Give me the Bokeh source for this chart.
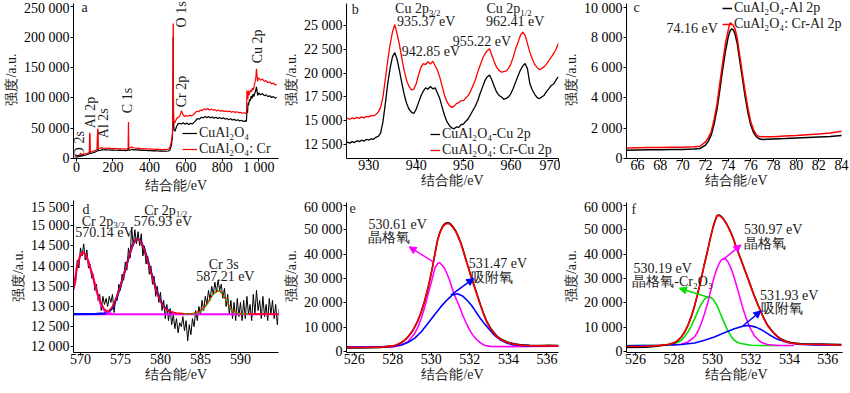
from bokeh.plotting import figure
from bokeh.models import Range1d, FixedTicker, Label, Arrow, NormalHead, Legend, LegendItem
from bokeh.layouts import column, row
from bokeh.embed import file_html
from bokeh.resources import INLINE

# ---------------- data ----------------
x_label = "结合能/eV"
y_label = "强度/a.u."

# panel a : survey
a_xticks = [0, 200, 400, 600, 800, 1000]
a_xticklabels = ["0", "200", "400", "600", "800", "1 000"]
a_yticks = [0, 50000, 100000, 150000, 200000, 250000]
a_yticklabels = ["0", "50 000", "100 000", "150 000", "200 000", "250 000"]
a_peaks = ["O 2s", "Al 2p", "Al 2s", "C 1s", "O 1s", "Cr 2p", "Cu 2p"]
a_series = ["CuAl₂O₄", "CuAl₂O₄: Cr"]
a_red_x = [-10, 0, 10, 18, 23, 28, 35, 45, 55, 63,
           70, 72, 74, 76, 85, 95, 105, 112, 116, 118,
           120, 130, 140, 150, 160, 170, 180, 190, 200, 210,
           220, 230, 240, 250, 260, 270, 280, 283, 285, 287,
           293, 300, 310, 320, 330, 340, 350, 360, 370, 380,
           390, 400, 410, 420, 430, 440, 450, 460, 470, 480,
           490, 500, 508, 515, 522, 527, 529, 530, 531, 532,
           534, 538, 545, 552, 560, 566, 572, 576, 580, 586,
           592, 600, 610, 620, 630, 640, 650, 660, 670, 680,
           690, 700, 710, 720, 730, 740, 750, 760, 770, 780,
           790, 800, 810, 820, 830, 840, 850, 860, 870, 880,
           890, 900, 910, 920, 928, 932, 935, 937, 940, 943,
           946, 950, 955, 960, 965, 970, 975, 980, 984, 987,
           990, 993, 997, 1000, 1010, 1020, 1030, 1040, 1050, 1060,
           1070, 1080, 1090, 1098]
a_red_y = [3800, 4500, 5200, 6000, 9000, 6500, 6800, 7300, 8000, 8800,
           9800, 41500, 41500, 10800, 11300, 12300, 13300, 14800, 48500, 48500,
           16500, 17000, 17500, 16800, 17300, 16600, 17000, 16400, 16800, 16200,
           16500, 15900, 16200, 15700, 16000, 15500, 15800, 16500, 60000, 17500,
           17000, 19000, 18000, 17300, 16800, 17000, 16300, 16500, 16000, 16200,
           15700, 15900, 15400, 15600, 15200, 15400, 14900, 15100, 14800, 15000,
           14700, 14900, 16000, 21000, 31000, 42000, 100000, 222000, 222000, 80000,
           62000, 58000, 63000, 67000, 68000, 70000, 74000, 79000, 75000, 72000,
           69000, 71000, 69500, 71500, 70000, 72000, 75000, 78000, 77000, 80000,
           79000, 82000, 80500, 82500, 80000, 81500, 79500, 80500, 78500, 80000,
           78000, 79000, 77500, 78500, 77000, 78000, 76500, 77500, 76000, 77000,
           75500, 76000, 74500, 75500, 74000, 76000, 112000, 100000, 98000, 112000,
           104000, 108000, 113000, 110000, 116000, 113000, 120000, 127000, 134000, 148000,
           138000, 127000, 131000, 133000, 129000, 131000, 127000, 128500, 125000, 126500,
           123000, 124500, 121000, 122500]
a_black_x = [-10, 0, 10, 20, 30, 40, 50, 60, 70, 73,
             75, 85, 95, 105, 115, 118, 121, 130, 140, 150,
             160, 170, 180, 190, 200, 210, 220, 230, 240, 250,
             260, 270, 280, 285, 288, 295, 305, 315, 325, 335,
             345, 355, 365, 375, 385, 395, 405, 415, 425, 435,
             445, 455, 465, 475, 485, 495, 505, 512, 520, 526,
             529, 530, 531, 532, 535, 540, 548, 556, 565, 575,
             585, 595, 605, 615, 625, 635, 645, 655, 665, 675,
             685, 695, 705, 715, 725, 735, 745, 755, 765, 775,
             785, 795, 805, 815, 825, 835, 845, 855, 865, 875,
             885, 895, 905, 915, 925, 932, 935, 938, 941, 944,
             948, 953, 958, 963, 968, 973, 978, 983, 987, 990,
             994, 1000, 1010, 1020, 1030, 1040, 1050, 1060, 1070, 1080,
             1090, 1098]
a_black_y = [2500, 2800, 3200, 3800, 4300, 5000, 5800, 6800, 7800, 12000,
             8500, 9000, 10000, 11000, 12500, 16000, 13000, 13500, 14500, 14000,
             14600, 14000, 14400, 13800, 14200, 13600, 14000, 13400, 13800, 13200,
             13500, 13000, 13300, 17000, 13500, 14000, 15000, 14300, 14500, 13900,
             14100, 13500, 13800, 13200, 13500, 12900, 13200, 12700, 13000, 12500,
             12800, 12300, 12600, 12100, 12400, 12000, 12400, 14000, 21000, 34000,
             90000, 200000, 200000, 60000, 47000, 45000, 52000, 57000, 58000, 57000,
             59000, 56500, 58500, 56000, 58000, 57000, 59500, 63000, 66000, 65000,
             68000, 67000, 69000, 67500, 69000, 67000, 68500, 66500, 68000, 66000,
             67500, 65500, 67000, 65000, 66000, 64000, 65500, 63500, 64500, 62500,
             64000, 62000, 63000, 61000, 62000, 61000, 80000, 75000, 92000, 88000,
             97000, 95000, 103000, 99000, 106000, 102000, 108000, 112000, 118000, 112000,
             104000, 108000, 105000, 107000, 103500, 105000, 102000, 103500, 100500, 102000,
             99500, 101000]

# panel b : Cu 2p
b_xticks = [930, 940, 950, 960, 970]
b_xticklabels = ["930", "940", "950", "960", "970"]
b_yticks = [12500, 15000, 17500, 20000, 22500, 25000]
b_yticklabels = ["12 500", "15 000", "17 500", "20 000", "22 500", "25 000"]
b_series = ["CuAl₂O₄-Cu 2p", "CuAl₂O₄: Cr-Cu 2p"]
b_peak_labels = ["935.37 eV", "942.85 eV", "955.22 eV", "962.41 eV"]
b_x = [925.0, 925.5, 926.0, 926.5, 927.0, 927.5, 928.0, 928.5, 929.0, 929.5,
       930.0, 930.5, 931.0, 931.5, 932.0, 932.5, 933.0, 933.5, 934.0, 934.5,
       935.0, 935.5, 936.0, 936.5, 937.0, 937.5, 938.0, 938.5, 939.0, 939.5,
       940.0, 940.5, 941.0, 941.5, 942.0, 942.5, 943.0, 943.5, 944.0, 944.5,
       945.0, 945.5, 946.0, 946.5, 947.0, 947.5, 948.0, 948.5, 949.0, 949.5,
       950.0, 950.5, 951.0, 951.5, 952.0, 952.5, 953.0, 953.5, 954.0, 954.5,
       955.0, 955.5, 956.0, 956.5, 957.0, 957.5, 958.0, 958.5, 959.0, 959.5,
       960.0, 960.5, 961.0, 961.5, 962.0, 962.5, 963.0, 963.5, 964.0, 964.5,
       965.0, 965.5, 966.0, 966.5, 967.0, 967.5, 968.0, 968.5, 969.0, 969.5,
       970.0]
b_black = [12550, 12750, 12650, 12800, 12700, 12900, 12800, 12950, 12850, 13050,
           12950, 13100, 13050, 13250, 13350, 13700, 14900, 16800, 18900, 20500,
           21700, 22150, 21400, 20200, 18900, 17700, 16800, 16200, 15900, 15750,
           16200, 16900, 17600, 18100, 18450, 18300, 18600, 18350, 18450, 17900,
           17300, 16400, 15550, 14900, 14500, 14250, 14150, 14350, 14300, 14600,
           14650, 14950, 15200, 15650, 16100, 16550, 17100, 17850, 18500, 19200,
           19600, 19800, 19250, 18600, 18000, 17650, 17500, 17250, 17350, 17500,
           17850, 18400, 19050, 19700, 20300, 20750, 21000, 20450, 18900, 18250,
           17800, 17450, 17300, 17500, 17650, 18050, 18350, 18700, 18850, 19250,
           19600]
b_red = [15100, 15250, 15150, 15300, 15200, 15350, 15250, 15400, 15300, 15450,
         15400, 15550, 15500, 15650, 15900, 16400, 17500, 19400, 21300, 23000,
         24300, 25100, 24100, 22900, 21500, 20200, 19200, 18600, 18250, 18300,
         18850, 19800, 20600, 21000, 20900, 21200, 20950, 21250, 20800, 20300,
         19550, 18600, 17650, 17000, 16600, 16400, 16500, 16800, 16900, 17100,
         17100, 17400, 17650, 18100, 18700, 19300, 20100, 20800, 21500, 22000,
         22350, 22550, 21850, 21150, 20600, 20300, 20100, 20150, 20200, 20500,
         20950, 21700, 22550, 23200, 23950, 24300, 23950, 23100, 22200, 21500,
         20950, 20600, 20350, 20500, 20650, 20950, 21300, 21650, 22050, 22450,
         23100]

# panel c : Al 2p
c_xticks = [66, 68, 70, 72, 74, 76, 78, 80, 82, 84]
c_xticklabels = ["66", "68", "70", "72", "74", "76", "78", "80", "82", "84"]
c_yticks = [0, 2000, 4000, 6000, 8000, 10000]
c_yticklabels = ["0", "2 000", "4 000", "6 000", "8 000", "10 000"]
c_series = ["CuAl₂O₄-Al 2p", "CuAl₂O₄: Cr-Al 2p"]
c_x = [65, 66, 67, 68, 69, 70, 71, 71.5, 72, 72.25, 72.5, 72.75, 73, 73.25, 73.5, 73.75,
       74, 74.15, 74.3, 74.45, 74.6, 74.8, 75, 75.25, 75.5, 75.75, 76, 76.25, 76.5, 76.75,
       77, 78, 79, 80, 81, 82, 83, 84]
c_black = [550, 560, 570, 580, 590, 600, 620, 660, 880, 1150, 1540, 2250, 3190, 4450, 5820, 7050,
           8020, 8400, 8570, 8500, 8240, 7600, 6590, 5350, 4070, 3000, 2200, 1700, 1430, 1300,
           1250, 1290, 1320, 1360, 1390, 1420, 1450, 1520]
c_red = [700, 710, 720, 730, 740, 750, 770, 810, 1100, 1380, 1760, 2550, 3520, 4900, 6260, 7550,
         8460, 8950, 8900, 8800, 8570, 7950, 6920, 5650, 4400, 3300, 2420, 1880, 1540, 1450,
         1430, 1440, 1480, 1520, 1570, 1620, 1680, 1800]

# panel d : Cr 2p
d_xticks = [570, 575, 580, 585, 590]
d_xticklabels = ["570", "575", "580", "585", "590"]
d_yticks = [12000, 12500, 13000, 13500, 14000, 14500, 15000, 15500]
d_yticklabels = ["12 000", "12 500", "13 000", "13 500", "14 000", "14 500", "15 000", "15 500"]
d_x = [569.0, 569.2, 569.4, 569.6, 569.8, 570.0, 570.2, 570.4, 570.6, 570.8,
       571.0, 571.2, 571.4, 571.6, 571.8, 572.0, 572.2, 572.4, 572.6, 572.8,
       573.0, 573.2, 573.4, 573.6, 573.8, 574.0, 574.2, 574.4, 574.6, 574.8,
       575.0, 575.2, 575.4, 575.6, 575.8, 576.0, 576.2, 576.4, 576.6, 576.8,
       577.0, 577.2, 577.4, 577.6, 577.8, 578.0, 578.2, 578.4, 578.6, 578.8,
       579.0, 579.2, 579.4, 579.6, 579.8, 580.0, 580.2, 580.4, 580.6, 580.8,
       581.0, 581.2, 581.4, 581.6, 581.8, 582.0, 582.2, 582.4, 582.6, 582.8,
       583.0, 583.2, 583.4, 583.6, 583.8, 584.0, 584.2, 584.4, 584.6, 584.8,
       585.0, 585.2, 585.4, 585.6, 585.8, 586.0, 586.2, 586.4, 586.6, 586.8,
       587.0, 587.2, 587.4, 587.6, 587.8, 588.0, 588.2, 588.4, 588.6, 588.8,
       589.0, 589.2, 589.4, 589.6, 589.8, 590.0, 590.2, 590.4, 590.6, 590.8,
       591.0, 591.2, 591.4, 591.6, 591.8, 592.0, 592.2, 592.4, 592.6, 592.8,
       593.0, 593.2, 593.4, 593.6, 593.8, 594.0, 594.2, 594.4, 594.6, 594.8]
d_raw = [13250, 13700, 13600, 14150, 13950, 14450, 14250, 14550, 14150, 14400,
         13950, 14050, 13700, 13800, 13400, 13550, 13150, 13300, 12900, 13250,
         13050, 13200, 13000, 13250, 13100, 13300, 12850, 13200, 13150, 13550,
         13400, 13800, 13650, 14100, 13900, 14450, 14200, 14950, 14500, 14900,
         14550, 14850, 14500, 14800, 14250, 14500, 14050, 14250, 13800, 14000,
         13550, 13750, 13250, 13500, 13100, 13350, 12900, 13150, 12700, 13050,
         12650, 12950, 12550, 12800, 12450, 12700, 12350, 12600, 12500, 12750,
         12400, 12650, 12150, 12550, 12300, 12700, 12500, 12900, 12650, 13000,
         12800, 13150, 12900, 13250, 13050, 13400, 13150, 13500, 13300, 13600,
         13350, 13650, 13400, 13550, 13200, 13450, 13000, 13300, 12800, 13150,
         12700, 13100, 12650, 13200, 12750, 13100, 12650, 13150, 12700, 13250,
         12800, 13050, 12650, 13300, 12800, 13400, 12900, 13150, 12700, 13250,
         12750, 13050, 12650, 13200, 12800, 13150, 12700, 13050, 12550, 12950]
d_fit_x = [569.1, 569.25, 569.58, 570.0, 570.33, 570.67, 571.0, 571.5, 572.0, 572.5,
           573.0, 573.5, 574.0, 574.5, 575.0, 575.5, 576.0, 576.5, 577.0, 577.5,
           578.0, 578.5, 579.0, 579.5, 580.0, 580.5, 581.0, 582.0, 583.0, 584.0,
           585.0, 585.5, 586.0, 586.5, 587.0, 587.25, 587.5, 588.0, 588.5, 589.0,
           589.5, 590.0, 594.8]
d_fit_y = [13420, 13530, 14020, 14270, 14350, 14270, 14110, 13780, 13410, 13120,
           12920, 12880, 13000, 13230, 13510, 13840, 14190, 14520, 14680, 14620,
           14390, 14050, 13700, 13370, 13120, 12960, 12880, 12840, 12820, 12820,
           12880, 12980, 13120, 13290, 13380, 13390, 13370, 13230, 13040, 12900,
           12840, 12820, 12810]
d_p1_x = [569.1, 569.25, 569.58, 570.0, 570.33, 570.67, 571.0, 571.5, 572.0, 572.5, 573.0, 573.5, 574.0]
d_p1_y = [13420, 13530, 14020, 14270, 14350, 14270, 14110, 13780, 13390, 13070, 12900, 12840, 12815]
d_p2_x = [569.1, 572.0, 573.0, 573.5, 574.0, 574.5, 575.0, 575.5, 576.0, 576.5,
          577.0, 577.5, 578.0, 578.5, 579.0, 579.5, 580.0, 580.5, 581.0, 581.5]
d_p2_y = [12810, 12815, 12830, 12860, 12960, 13200, 13500, 13840, 14190, 14520,
          14680, 14630, 14410, 14080, 13730, 13400, 13140, 12980, 12890, 12840]
d_p3_x = [583.0, 584.0, 585.0, 585.5, 586.0, 586.5, 587.0, 587.25, 587.5, 588.0, 588.5, 589.0, 589.5, 590.0, 591.0]
d_p3_y = [12812, 12815, 12860, 12960, 13110, 13280, 13380, 13390, 13370, 13230, 13040, 12900, 12840, 12815, 12810]
d_base_x = [569.1, 594.8]
d_base_y = [12810, 12810]

# panels e, f : O 1s
ef_xticks = [526, 528, 530, 532, 534, 536]
ef_xticklabels = ["526", "528", "530", "532", "534", "536"]
ef_yticks = [0, 10000, 20000, 30000, 40000, 50000, 60000]
ef_yticklabels = ["0", "10 000", "20 000", "30 000", "40 000", "50 000", "60 000"]
e_x = [525.6, 526.0, 527.0, 527.4, 528.0, 528.2, 528.44, 528.6, 528.78, 529.0,
       529.13, 529.3, 529.47, 529.65, 529.81, 529.95, 530.07, 530.2, 530.33, 530.46,
       530.59, 530.7, 530.81, 530.92, 531.02, 531.15, 531.27, 531.4, 531.53, 531.66,
       531.79, 531.92, 532.05, 532.22, 532.39, 532.56, 532.74, 532.9, 533.08, 533.25,
       533.42, 533.68, 533.94, 534.3, 534.63, 535.1, 535.66, 536.1, 536.6]
e_red = [1800, 1750, 1850, 1900, 2400, 2900, 3800, 4700, 6070, 8300,
         10100, 12800, 16200, 20800, 25600, 30500, 35000, 40600, 45800, 49000,
         51200, 52200, 52600, 52500, 51900, 50700, 49200, 47000, 44500, 41200,
         37700, 34400, 31000, 27000, 22900, 18800, 14800, 11800, 9400, 7600,
         6070, 4700, 3800, 3100, 2700, 2500, 2430, 2450, 2430]
e_black = [1600, 1550, 1700, 1800, 2300, 2800, 3700, 4600, 6000, 8200,
           10000, 12700, 16100, 20700, 25500, 30400, 35000, 40700, 46000, 49300,
           51500, 52500, 52900, 52800, 52200, 51000, 49500, 47300, 44800, 41500,
           38000, 34700, 31300, 27300, 23200, 19100, 15100, 12100, 9700, 7900,
           6300, 4900, 4000, 3300, 2900, 2700, 2600, 2650, 2600]
e_mag_x = [525.6, 527.4, 528.0, 528.44, 528.78, 529.13, 529.3, 529.47, 529.65, 529.81,
           530.02, 530.19, 530.33, 530.42, 530.5, 530.67, 530.8, 530.93, 531.06, 531.19,
           531.33, 531.48, 531.63, 531.79, 531.92, 532.05, 532.22, 532.39, 532.56, 532.74,
           532.9, 533.08, 533.94, 536.6]
e_mag_y = [1900, 1900, 2000, 2700, 4100, 7400, 10000, 13500, 18000, 22900,
           29000, 34400, 36200, 36500, 36000, 34400, 32300, 29700, 26600, 23600,
           20900, 18200, 15000, 12100, 10000, 8100, 6200, 4700, 3600, 2800,
           2400, 2200, 2100, 2300]
e_blue_x = [525.6, 527.41, 528.01, 528.44, 528.78, 529.13, 529.47, 529.81, 530.16, 530.5,
            530.85, 531.1, 531.36, 531.62, 531.88, 532.05, 532.22, 532.39, 532.56, 532.74,
            532.91, 533.08, 533.25, 533.42, 533.6, 533.94, 534.28, 534.97, 536.6]
e_blue_y = [1900, 2000, 2300, 2800, 3800, 5500, 8100, 11500, 15100, 18500,
            21500, 23300, 23800, 22900, 20900, 19400, 17500, 15500, 13500, 11700,
            10100, 8500, 7000, 5800, 4800, 3500, 2800, 2400, 2400]
e_texts = ["530.61 eV", "晶格氧", "531.47 eV", "吸附氧"]

f_x = [525.53, 526.5, 527.0, 527.69, 528.03, 528.2, 528.38, 528.55, 528.72, 528.9,
       529.07, 529.24, 529.41, 529.58, 529.76, 529.89, 530.02, 530.13, 530.24, 530.35,
       530.45, 530.58, 530.71, 530.84, 530.97, 531.1, 531.22, 531.35, 531.48, 531.65,
       531.83, 532.0, 532.17, 532.35, 532.52, 532.69, 532.86, 533.03, 533.21, 533.38,
       533.55, 533.8, 534.07, 534.59, 535.62, 536.7]
f_red = [2150, 2250, 2400, 3000, 3800, 4700, 6070, 8100, 10800, 14500,
         18900, 24000, 29700, 35800, 41800, 46500, 50600, 53500, 55700, 55900,
         55300, 54200, 52600, 50700, 48500, 45900, 43100, 40400, 37700, 34000,
         30300, 26500, 22900, 19400, 16200, 13300, 10800, 9000, 7400, 6100,
         5100, 4200, 3600, 3100, 3000, 2700]
f_black = [1750, 1900, 2200, 2850, 3700, 4600, 6000, 8000, 10700, 14400,
           18800, 24000, 29800, 35900, 42000, 46700, 50800, 53700, 55900, 56100,
           55500, 54400, 52800, 50900, 48700, 46100, 43300, 40600, 37900, 34200,
           30500, 26700, 23100, 19600, 16400, 13500, 11000, 9200, 7600, 6300,
           5300, 4400, 3800, 3300, 3200, 3000]
f_grn_x = [525.53, 527.34, 528.03, 528.2, 528.38, 528.55, 528.72, 528.9, 529.07, 529.24,
           529.41, 529.58, 529.76, 529.89, 530.02, 530.15, 530.28, 530.4, 530.53, 530.66,
           530.79, 530.96, 531.14, 531.3, 531.48, 532.0, 532.52, 533.5]
f_grn_y = [2600, 2700, 3400, 3900, 4700, 6200, 8100, 10600, 13500, 16600,
           19500, 21500, 22500, 22400, 21600, 20100, 18200, 15900, 13500, 11000,
           8800, 6500, 4700, 3900, 3400, 2700, 2560, 2550]
f_mag_x = [527.86, 528.38, 528.72, 529.07, 529.24, 529.41, 529.58, 529.76, 529.93, 530.1,
           530.23, 530.36, 530.47, 530.57, 530.68, 530.79, 530.92, 531.05, 531.18, 531.31,
           531.44, 531.57, 531.7, 531.83, 532.0, 532.17, 532.35, 532.52, 532.69, 532.86,
           533.38, 534.24]
f_mag_y = [2700, 3100, 4000, 6070, 8300, 11500, 15500, 20200, 25700, 31000,
           34000, 36400, 37700, 38200, 38000, 37100, 35000, 32400, 29000, 25600,
           21800, 18200, 15000, 12100, 9200, 6700, 5100, 4000, 3400, 3000,
           2560, 2560]
f_blue_x = [525.53, 527.34, 528.38, 529.07, 529.59, 530.1, 530.62, 531.14, 531.57, 531.91,
            532.26, 532.6, 532.95, 533.38, 533.9, 534.41, 535.28, 536.7]
f_blue_y = [2430, 2700, 3000, 3600, 4700, 6070, 7800, 9400, 10500, 10800,
            10100, 8800, 7000, 5100, 3800, 3100, 2800, 2700]
f_texts = ["530.97 eV", "晶格氧", "530.19 eV", "晶格氧-Cr₂O₃", "531.93 eV", "吸附氧"]

# ---------------- style ----------------
FONT = "Liberation Serif"
FS = "14px"
TXT = "#1a1a1a"
RED = "#ff0000"
BLK = "#000000"
MAG = "#ff00ff"
BLU = "#0000ff"
GRN = "#00e000"


def make_fig(w, h, xr, yr, xb, yb, xt, xl, yt, yl, bl, br):
    p = figure(width=w, height=h, x_range=Range1d(*xr), y_range=Range1d(*yr),
               output_backend="svg", toolbar_location=None,
               min_border_left=bl, min_border_right=br, min_border_top=0, min_border_bottom=41)
    p.outline_line_color = None
    p.xgrid.visible = False
    p.ygrid.visible = False
    p.background_fill_color = "white"
    p.border_fill_color = "white"
    p.xaxis.ticker = FixedTicker(ticks=xt)
    p.xaxis.major_label_overrides = {t: l for t, l in zip(xt, xl)}
    p.yaxis.ticker = FixedTicker(ticks=yt)
    p.yaxis.major_label_overrides = {t: l for t, l in zip(yt, yl)}
    p.xaxis.bounds = xb
    p.yaxis.bounds = yb
    p.xaxis.axis_label = x_label
    p.yaxis.axis_label = y_label
    for ax in (p.xaxis[0], p.yaxis[0]):
        ax.axis_line_color = "black"
        ax.axis_line_width = 1
        ax.major_tick_in = 0
        ax.major_tick_out = 3
        ax.major_tick_line_color = "black"
        ax.minor_tick_in = 0
        ax.minor_tick_out = 0
        ax.major_label_text_font = FONT
        ax.major_label_text_font_size = FS
        ax.major_label_text_color = "black"
        ax.axis_label_text_font = FONT
        ax.axis_label_text_font_size = FS
        ax.axis_label_text_font_style = "normal"
        ax.axis_label_text_color = TXT
    p.xaxis.major_label_standoff = -2
    p.xaxis.axis_label_standoff = 0
    p.yaxis.major_label_standoff = 1
    p.yaxis.axis_label_standoff = 2
    return p


def txt(p, x, y, s, align="left", baseline="middle", size=FS, color=TXT, angle=0, yoff=0):
    p.add_layout(Label(x=x, y=y, text=s, text_align=align, text_baseline=baseline,
                       text_font=FONT, text_font_size=size, text_color=color,
                       angle=angle, angle_units="deg", y_offset=yoff))


def sub_txt(p, x, y, main, sub):
    txt(p, x, y, main, align="right")
    txt(p, x, y, sub, align="left", size="9px", yoff=-4)


def arrow(p, x0, y0, x1, y1, color):
    p.add_layout(Arrow(x_start=x0, y_start=y0, x_end=x1, y_end=y1, line_color=color, line_width=1.5,
                       end=NormalHead(size=7, fill_color=color, line_color=color, line_width=1)))


def legend_row(p, label, renderer, loc, gw):
    lg = Legend(items=[LegendItem(label=label, renderers=[renderer])], location=loc,
                label_text_font=FONT, label_text_font_size=FS, label_text_color=TXT,
                label_height=14, glyph_height=14, glyph_width=gw,
                spacing=0, padding=0, margin=0, border_line_alpha=0, background_fill_alpha=0,
                label_standoff=2)
    p.add_layout(lg)


# ---------------- panel a ----------------
pa = make_fig(280, 199, (-16.5, 1108), (0, 260450), (-16.5, 1108), (0, 256000),
              a_xticks, a_xticklabels, a_yticks, a_yticklabels, 73, 2)
ra_k = pa.line(a_black_x, a_black_y, line_color=BLK, line_width=1.2)
ra_r = pa.line(a_red_x, a_red_y, line_color=RED, line_width=1.2)
txt(pa, 27, 248600, "a")
for name, xx, yy in zip(a_peaks, [19, 77, 148, 280, 576, 576, 995],
                        [2200, 50000, 33500, 74700, 216000, 84500, 157000]):
    txt(pa, xx, yy, name, align="left", baseline="middle", angle=90)
legend_row(pa, a_series[0], ra_k, (109, 17), 15)
legend_row(pa, a_series[1], ra_r, (109, 1), 15)

# ---------------- panel b ----------------
pb = make_fig(280, 199, (925.3, 970.05), (11030, 27624), (925.3, 970.05), (11030, 27300),
              b_xticks, b_xticklabels, b_yticks, b_yticklabels, 65, 2)
rb_k = pb.line(b_x, b_black, line_color=BLK, line_width=1.3)
rb_r = pb.line(b_x, b_red, line_color=RED, line_width=1.3)
txt(pb, 926.4, 26680, "b")
sub_txt(pb, 942.7, 26780, "Cu 2p", "3/2")
txt(pb, 942.1, 25420, b_peak_labels[0], align="center")
txt(pb, 943.1, 22270, b_peak_labels[1], align="center")
txt(pb, 953.9, 23320, b_peak_labels[2], align="center")
sub_txt(pb, 962.0, 26780, "Cu 2p", "1/2")
txt(pb, 960.9, 25420, b_peak_labels[3], align="center")
legend_row(pb, b_series[0], rb_k, (84, 16), 10)
legend_row(pb, b_series[1], rb_r, (84, 0), 10)

# ---------------- panel c ----------------
pc = make_fig(290, 199, (65.03, 84.44), (0, 10440), (65.03, 84.09), (0, 10240),
              c_xticks, c_xticklabels, c_yticks, c_yticklabels, 65, 4)
rc_k = pc.line(c_x, c_black, line_color=BLK, line_width=1.5)
rc_r = pc.line(c_x, c_red, line_color=RED, line_width=1.5)
txt(pc, 65.65, 9945, "c")
txt(pc, 70.83, 8590, "74.16 eV", align="center")
legend_row(pc, c_series[0], rc_k, (96, 142), 10)
legend_row(pc, c_series[1], rc_r, (96, 126), 10)

# ---------------- panel d ----------------
pd_ = make_fig(280, 194, (569.13, 594.75), (11861, 15648), (569.13, 594.75), (11861, 15621),
               d_xticks, d_xticklabels, d_yticks, d_yticklabels, 73, 2)
pd_.line(d_x, d_raw, line_color=BLK, line_width=1)
pd_.line(d_base_x, d_base_y, line_color=MAG, line_width=2)
pd_.line(d_p2_x, d_p2_y, line_color=BLU, line_width=2.2)
pd_.line(d_p1_x, d_p1_y, line_color=MAG, line_width=2.2)
pd_.line(d_fit_x, d_fit_y, line_color=RED, line_width=1.5)
pd_.line(d_p3_x, d_p3_y, line_color=GRN, line_width=1.5, line_dash="2 2")
txt(pd_, 570.25, 15400, "d")
sub_txt(pd_, 574.1, 15107, "Cr 2p", "3/2")
txt(pd_, 573.0, 14824, "570.14 eV", align="center")
sub_txt(pd_, 581.9, 15380, "Cr 2p", "1/2")
txt(pd_, 580.3, 15107, "576.93 eV", align="center")
txt(pd_, 587.9, 14049, "Cr 3s", align="center")
txt(pd_, 588.1, 13754, "587.21 eV", align="center")

# ---------------- panel e ----------------
pe = make_fig(280, 194, (525.6, 536.6), (-300, 62424), (525.6, 536.6), (-300, 61350),
              ef_xticks, ef_xticklabels, ef_yticks, ef_yticklabels, 65, 2)
pe.line(e_mag_x, e_mag_y, line_color=MAG, line_width=1.6)
pe.line(e_blue_x, e_blue_y, line_color=BLU, line_width=1.6)
pe.line(e_x, e_black, line_color=BLK, line_width=1.6)
pe.line(e_x, e_red, line_color=RED, line_width=1.6)
txt(pe, 525.76, 59000, "e")
txt(pe, 526.74, 52310, e_texts[0])
txt(pe, 526.74, 47050, e_texts[1])
arrow(pe, 530.09, 36940, 528.85, 43010, MAG)
txt(pe, 531.94, 36130, e_texts[2])
txt(pe, 532.06, 30270, e_texts[3])
arrow(pe, 531.02, 23190, 532.2, 30070, BLU)

# ---------------- panel f ----------------
pf = make_fig(290, 194, (525.53, 536.97), (-300, 62424), (525.53, 536.76), (-300, 61350),
              ef_xticks, ef_xticklabels, ef_yticks, ef_yticklabels, 65, 4)
pf.line(f_grn_x, f_grn_y, line_color=GRN, line_width=1.6)
pf.line(f_mag_x, f_mag_y, line_color=MAG, line_width=1.6)
pf.line(f_blue_x, f_blue_y, line_color=BLU, line_width=1.6)
pf.line(f_x, f_black, line_color=BLK, line_width=1.6)
pf.line(f_x, f_red, line_color=RED, line_width=1.6)
txt(pf, 525.79, 58500, "f")
txt(pf, 531.64, 50290, f_texts[0])
txt(pf, 531.62, 44420, f_texts[1])
arrow(pf, 530.55, 37750, 531.48, 43820, MAG)
txt(pf, 525.9, 34110, f_texts[2])
txt(pf, 525.83, 28850, f_texts[3])
arrow(pf, 529.78, 22380, 528.28, 26020, GRN)
txt(pf, 532.47, 23190, f_texts[4])
txt(pf, 532.5, 17730, f_texts[5])
arrow(pf, 531.59, 10650, 532.52, 16720, BLU)

layout = column(row(pa, pb, pc), row(pd_, pe, pf))
open("out.html", "w").write(file_html(layout, INLINE))
